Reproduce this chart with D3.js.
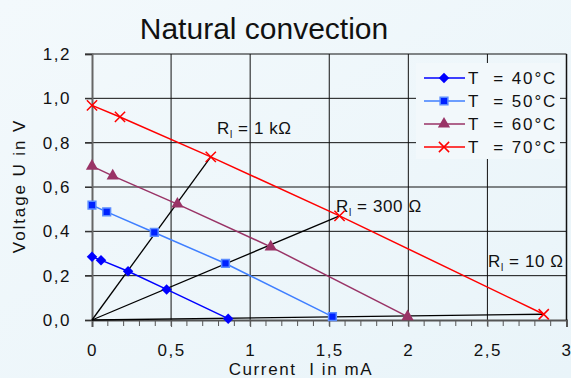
<!DOCTYPE html>
<html>
<head>
<meta charset="utf-8">
<script src="https://cdn.jsdelivr.net/npm/d3@7"></script>
<style>
  body { margin: 0; }
  svg { display: block; font-family: "Liberation Sans", Arial, sans-serif; }
</style>
</head>
<body>
<div id="chart"></div>
<script>
// data (current in mA, voltage in V)
const seriesNames = ["T  = 40°C", "T  = 50°C", "T  = 60°C", "T  = 70°C"];
const currentT40 = [0, 0.057, 0.228, 0.472, 0.861];
const voltageT40 = [0.285, 0.27, 0.22, 0.138, 0.006];
const currentT50 = [0, 0.093, 0.394, 0.844, 1.52];
const voltageT50 = [0.518, 0.488, 0.395, 0.255, 0.015];
const currentT60 = [0, 0.131, 0.54, 1.13, 1.995];
const voltageT60 = [0.694, 0.65, 0.523, 0.33, 0.015];
const currentT70 = [0, 0.177, 0.751, 1.565, 2.856];
const voltageT70 = [0.968, 0.916, 0.736, 0.47, 0.026];

// load lines from origin to the 70°C point
const loadNames = ["1 kΩ", "300 Ω", "10 Ω"];
const loadCurrent = [0.751, 1.565, 2.856];
const loadVoltage = [0.736, 0.47, 0.026];

const xTicks = [0, 0.5, 1, 1.5, 2, 2.5, 3];
const xTickLabels = ["0", "0,5", "1", "1,5", "2", "2,5", "3"];
const yTicks = [0, 0.2, 0.4, 0.6, 0.8, 1.0, 1.2];
const yTickLabels = ["0,0", "0,2", "0,4", "0,6", "0,8", "1,0", "1,2"];

const width = 571, height = 378;
const margin = { top: 54, right: 4, bottom: 58, left: 92 };

const svg = d3.select("#chart").append("svg")
  .attr("width", width)
  .attr("height", height);

// soft background
const defs = svg.append("defs");
const grad = defs.append("linearGradient").attr("id", "bg")
  .attr("x1", 0).attr("y1", 0).attr("x2", 1).attr("y2", 1);
grad.append("stop").attr("offset", 0).attr("stop-color", "#f3f9fc");
grad.append("stop").attr("offset", 1).attr("stop-color", "#e9f4f9");
svg.append("rect").attr("width", width).attr("height", height).attr("fill", "url(#bg)");

const x = d3.scaleLinear().domain([0, 3]).range([margin.left, width - margin.right - 0.5]);
const y = d3.scaleLinear().domain([0, 1.2]).range([height - margin.bottom, margin.top]);

// grid
svg.append("g")
  .selectAll("line.v")
  .data(xTicks.slice(1))
  .join("line")
  .attr("x1", d => x(d)).attr("x2", d => x(d))
  .attr("y1", y(0)).attr("y2", y(1.2))
  .attr("stroke", "#111").attr("stroke-width", 1);
svg.append("g")
  .selectAll("line.h")
  .data(yTicks.slice(1))
  .join("line")
  .attr("x1", x(0) - 7).attr("x2", x(3))
  .attr("y1", d => y(d)).attr("y2", d => y(d))
  .attr("stroke", "#111").attr("stroke-width", 1);

// minor ticks on the x axis
svg.append("g")
  .selectAll("line")
  .data(d3.range(1, 30))
  .join("line")
  .attr("x1", d => x(d / 10)).attr("x2", d => x(d / 10))
  .attr("y1", y(0)).attr("y2", y(0) + 6)
  .attr("stroke", "#555").attr("stroke-width", 1);

// axes
svg.append("g")
  .attr("transform", `translate(0,${y(0)})`)
  .call(d3.axisBottom(x).tickValues(xTicks).tickSize(7)
    .tickFormat((d, i) => xTickLabels[i]).tickPadding(17))
  .call(g => g.select(".domain").attr("stroke", "#555").attr("stroke-width", 2))
  .call(g => g.selectAll(".tick line").attr("stroke", "#555"))
  .call(g => g.selectAll("text").attr("font-size", 17).attr("fill", "#111")
    .attr("letter-spacing", 1.5)
    .attr("font-family", "Liberation Sans, Arial, sans-serif"));

svg.append("g")
  .attr("transform", `translate(${x(0)},0)`)
  .call(d3.axisLeft(y).tickValues(yTicks).tickSize(7)
    .tickFormat((d, i) => yTickLabels[i]).tickPadding(14))
  .call(g => g.select(".domain").attr("stroke", "#666").attr("stroke-width", 2))
  .call(g => g.selectAll(".tick line").attr("stroke", "#333"))
  .call(g => g.selectAll("text").attr("font-size", 17).attr("fill", "#111")
    .attr("letter-spacing", 1.5)
    .attr("font-family", "Liberation Sans, Arial, sans-serif"));

// right border
svg.append("line")
  .attr("x1", x(3)).attr("x2", x(3)).attr("y1", y(0)).attr("y2", y(1.2))
  .attr("stroke", "#111").attr("stroke-width", 1.5);

// legend box (hides the grid behind it)
const lg = svg.append("g");
lg.append("rect")
  .attr("x", 416).attr("y", 63).attr("width", 144).attr("height", 96)
  .attr("fill", "#f2f8fb");

// load lines
const line = d3.line().x(d => x(d[0])).y(d => y(d[1]));
svg.append("g")
  .selectAll("path")
  .data(loadCurrent.map((c, i) => [[0, 0], [c, loadVoltage[i]]]))
  .join("path")
  .attr("d", line)
  .attr("fill", "none").attr("stroke", "#000").attr("stroke-width", 1.3);

const series = [
  { name: seriesNames[0], cur: currentT40, vol: voltageT40, color: "#0000ff", mcolor: "#0000ff", sym: "diamond", size: 55 },
  { name: seriesNames[1], cur: currentT50, vol: voltageT50, color: "#3f7fff", mcolor: "#0022ff", sym: "square", size: 60 },
  { name: seriesNames[2], cur: currentT60, vol: voltageT60, color: "#993366", mcolor: "#993366", sym: "triangle", size: 65 },
  { name: seriesNames[3], cur: currentT70, vol: voltageT70, color: "#ff0000", mcolor: "#ff0000", sym: "x", size: 70 }
];

function marker(sel, s) {
  if (s.sym === "x") {
    sel.attr("d", d3.symbol(d3.symbolTimes, s.size)).attr("fill", "none")
      .attr("stroke", s.mcolor).attr("stroke-width", 1.5);
  } else if (s.sym === "square") {
    sel.attr("d", d3.symbol(d3.symbolSquare, s.size)).attr("fill", s.mcolor)
      .attr("stroke", "#5b8cff").attr("stroke-width", 1.5);
  } else if (s.sym === "diamond") {
    // a square turned by 45 degrees
    sel.attr("d", d3.symbol(d3.symbolSquare, s.size)).attr("fill", s.mcolor)
      .attr("transform", function () { return d3.select(this).attr("transform") + " rotate(45)"; });
  } else {
    sel.attr("d", d3.symbol(d3.symbolTriangle, s.size)).attr("fill", s.mcolor);
  }
}

series.forEach(s => {
  const pts = s.cur.map((c, i) => [c, s.vol[i]]);
  const g = svg.append("g");
  g.append("path").datum(pts).attr("d", line)
    .attr("fill", "none").attr("stroke", s.color).attr("stroke-width", 1.5);
  g.selectAll("path.m").data(pts).join("path")
    .attr("class", "m")
    .attr("transform", d => `translate(${x(d[0])},${y(d[1])})`)
    .call(sel => marker(sel, s));
});

// legend entries
series.forEach((s, i) => {
  const ly = 78 + i * 23;
  lg.append("line").attr("x1", 424).attr("x2", 465).attr("y1", ly).attr("y2", ly)
    .attr("stroke", s.color).attr("stroke-width", 1.5);
  lg.append("path").attr("transform", `translate(444,${ly})`).call(sel => marker(sel, s));
  lg.append("text").attr("x", 468).attr("y", ly + 6).attr("font-size", 17)
    .attr("letter-spacing", 1.9)
    .attr("fill", "#111").attr("xml:space", "preserve").text(s.name);
});

// load line labels
const labelPos = [[217, 134], [336, 212], [488, 267]];
loadNames.forEach((n, i) => {
  const t = svg.append("text").attr("x", labelPos[i][0]).attr("y", labelPos[i][1])
    .attr("font-size", 17).attr("fill", "#111").attr("letter-spacing", 0.6);
  t.append("tspan").text("R");
  t.append("tspan").attr("font-size", 10).attr("dy", 4).text("l");
  t.append("tspan").attr("dy", -4).attr("xml:space", "preserve").text(" = " + n);
});

// title and axis titles
svg.append("text").attr("x", 264).attr("y", 39).attr("text-anchor", "middle")
  .attr("font-size", 30).attr("fill", "#111").text("Natural convection");
svg.append("text").attr("x", 301).attr("y", 375).attr("text-anchor", "middle")
  .attr("font-size", 17).attr("fill", "#111").attr("letter-spacing", 1.6)
  .attr("xml:space", "preserve").text("Current  I in mA");
svg.append("text").attr("transform", "translate(25,186) rotate(-90)").attr("text-anchor", "middle")
  .attr("font-size", 17).attr("fill", "#111").attr("letter-spacing", 1.9).text("Voltage U in V");
</script>
</body>
</html>
